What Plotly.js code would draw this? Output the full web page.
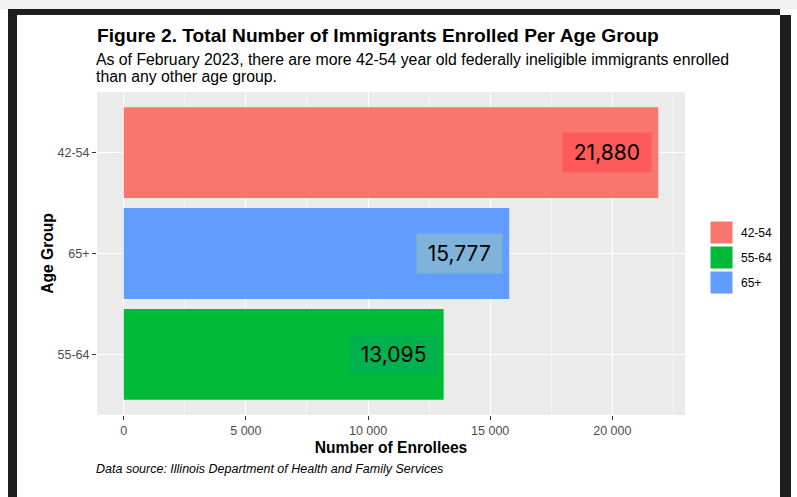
<!DOCTYPE html>
<html>
<head>
<meta charset="utf-8">
<script src="https://cdn.plot.ly/plotly-3.0.1.min.js"></script>
<style>
  html, body { margin:0; padding:0; background:#ffffff; }
  #wrap { position:relative; width:797px; height:497px; overflow:hidden; background:#fff; }
  #chart { position:absolute; left:0; top:0; width:797px; height:497px; }
  .frame { position:absolute; background:#1e1e1e; }
</style>
</head>
<body>
<div id="wrap">
  <div id="chart"></div>
  <div class="frame" style="left:0;top:0;width:797px;height:9px;background:#f2f2f2;"></div>
  <div class="frame" style="left:8px;top:9px;width:772px;height:6px;"></div>
  <div class="frame" style="left:8px;top:9px;width:9px;height:488px;"></div>
  <div class="frame" style="left:780px;top:15px;width:11px;height:482px;"></div>
</div>
<script>
// ---- data ----
const categories = ["42-54", "65+", "55-64"];          // top-to-bottom order on the chart
const enrollees  = [21880, 15777, 13095];
const barColors  = ["#F8766D", "#619CFF", "#00BA38"];
const labelBoxColors = ["#FF5A5A", "#80B3DA", "#00B24E"];
const legendOrder = ["42-54", "55-64", "65+"];
const legendColors = ["#F8766D", "#00BA38", "#619CFF"];
const xTicks = [0, 5000, 10000, 15000, 20000];

const titleText = "Figure 2. Total Number of Immigrants Enrolled Per Age Group";
const subtitleLines = ["As of February 2023, there are more 42-54 year old federally ineligible immigrants enrolled",
                       "than any other age group."];
const captionText = "Data source: Illinois Department of Health and Family Services";

// ---- layout geometry (pixels) ----
const W = 797, H = 497;
const panel = {l: 97, r: 685, t: 92, b: 415};
const pw = panel.r - panel.l, ph = panel.b - panel.t;
const px2x = p => (p - panel.l) / pw;
const py2y = p => (panel.b - p) / ph;
const FONT = "'Liberation Sans', Arial, sans-serif";

const maxV = Math.max(...enrollees);
const xRange = [-0.05 * maxV, 1.05 * maxV];

const trace = {
  type: "bar",
  orientation: "h",
  y: categories,
  x: enrollees,
  marker: {color: barColors},
  width: 0.9,
  showlegend: false,
  hoverinfo: "skip"
};

const annotations = [];
// value labels
enrollees.forEach((v, i) => {
  annotations.push({
    x: v, y: categories[i], xref: "x", yref: "y",
    text: "\u2009" + v.toLocaleString("en-US") + "\u2009",
    showarrow: false, xanchor: "right", yanchor: "middle", xshift: -6,
    font: {family: "Inter, 'Noto Sans', sans-serif", size: 21, color: "#000"},
    bgcolor: labelBoxColors[i], borderpad: 7
  });
});
// subtitle (two lines)
subtitleLines.forEach((line, i) => {
  annotations.push({
    xref: "paper", yref: "paper", x: px2x(94), y: py2y(60 + i * 17), xanchor: "left", yanchor: "middle",
    align: "left", showarrow: false, text: line,
    font: {family: FONT, size: 15.8, color: "#000"}
  });
});
// caption
annotations.push({
  xref: "paper", yref: "paper", x: px2x(94), y: py2y(469), xanchor: "left", yanchor: "middle",
  showarrow: false, text: "<i>" + captionText + "</i>",
  font: {family: FONT, size: 12.5, color: "#000"}
});

// manual legend (large keys as in reference)
const shapes = [];
const keyTop = 221, keyH = 23, keyGap = 25, keyL = 710, keyR = 733;
legendOrder.forEach((lab, i) => {
  const t = keyTop + i * keyGap;
  shapes.push({
    type: "rect", xref: "paper", yref: "paper",
    x0: px2x(keyL), x1: px2x(keyR), y0: py2y(t + keyH), y1: py2y(t),
    fillcolor: legendColors[i], line: {color: "#ffffff", width: 1}
  });
  annotations.push({
    xref: "paper", yref: "paper", x: px2x(739), y: py2y(t + keyH / 2),
    xanchor: "left", yanchor: "middle", showarrow: false, text: lab,
    font: {family: FONT, size: 12, color: "#000"}
  });
});

const layout = {
  width: W, height: H,
  margin: {l: panel.l, r: W - panel.r, t: panel.t, b: H - panel.b, pad: 0},
  paper_bgcolor: "#ffffff",
  plot_bgcolor: "#EBEBEB",
  separators: ". ",
  title: {
    text: "<b>" + titleText + "</b>",
    x: panel.l / W, xref: "container", xanchor: "left",
    y: 1 - 35 / H, yref: "container", yanchor: "middle",
    font: {family: FONT, size: 19.2, color: "#000"}
  },
  xaxis: {
    range: xRange,
    tickvals: xTicks,
    tickformat: ",d",
    ticks: "outside", ticklen: 4, tickwidth: 1, tickcolor: "#333333",
    tickfont: {family: FONT, size: 12.5, color: "#4D4D4D"},
    showgrid: true, gridcolor: "#ffffff", gridwidth: 1,
    minor: {dtick: 2500, tick0: 2500, showgrid: true, gridcolor: "#F5F5F5", gridwidth: 1},
    zeroline: false, showline: false,
    title: {text: "<b>Number of Enrollees</b>", standoff: 5,
      font: {family: FONT, size: 15.6, color: "#000"}},
    fixedrange: true
  },
  yaxis: {
    categoryorder: "array", categoryarray: categories.slice().reverse(),
    range: [-0.6, categories.length - 0.4],
    ticks: "outside", ticklen: 4, tickwidth: 1, tickcolor: "#333333",
    tickfont: {family: FONT, size: 12.5, color: "#4D4D4D"},
    showgrid: true, gridcolor: "#ffffff", gridwidth: 1,
    zeroline: false, showline: false,
    title: {text: "<b>Age Group</b>", standoff: 0,
      font: {family: FONT, size: 15.6, color: "#000"}},
    fixedrange: true
  },
  shapes: shapes,
  annotations: annotations,
  showlegend: false,
  bargap: 0.1
};

Plotly.newPlot("chart", [trace], layout, {displayModeBar: false, staticPlot: true});
</script>
</body>
</html>
